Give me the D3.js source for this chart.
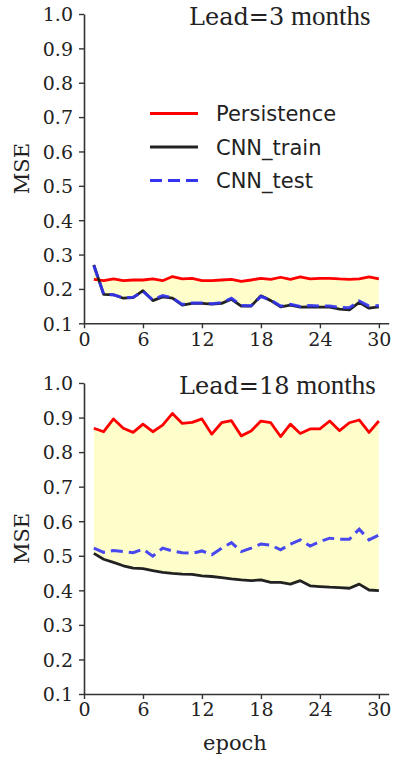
<!DOCTYPE html>
<html><head><meta charset="utf-8">
<script src="https://cdn.jsdelivr.net/npm/d3@7"></script>
<style>html,body{margin:0;padding:0;background:#fff;}svg{display:block;}</style>
</head><body>
<script>
const epochs = [1,2,3,4,5,6,7,8,9,10,11,12,13,14,15,16,17,18,19,20,21,22,23,24,25,26,27,28,29,30];
const xTicks = [0,6,12,18,24,30];
const yTicks = [0.1,0.2,0.3,0.4,0.5,0.6,0.7,0.8,0.9,1.0];
const seriesNames = ["Persistence","CNN_train","CNN_test"];
const panelTitles = [["Lead=3"," months"],["Lead=18"," months"]];

const persist3 = [0.228,0.224,0.229,0.224,0.226,0.226,0.229,0.224,0.236,0.229,0.231,0.224,0.224,0.226,0.228,0.222,0.226,0.231,0.228,0.234,0.228,0.235,0.229,0.231,0.231,0.229,0.228,0.229,0.235,0.229];
const train3 = [0.270,0.184,0.183,0.173,0.175,0.195,0.166,0.177,0.173,0.153,0.158,0.158,0.156,0.158,0.170,0.150,0.150,0.180,0.166,0.148,0.153,0.147,0.148,0.147,0.147,0.141,0.139,0.161,0.144,0.148];
const test3 = [0.268,0.185,0.183,0.174,0.176,0.193,0.168,0.181,0.174,0.155,0.159,0.159,0.157,0.160,0.173,0.152,0.151,0.178,0.168,0.150,0.155,0.149,0.152,0.150,0.150,0.146,0.145,0.165,0.150,0.152];

const persist18 = [0.869,0.859,0.896,0.869,0.857,0.881,0.859,0.878,0.912,0.883,0.886,0.896,0.852,0.885,0.891,0.847,0.861,0.890,0.885,0.845,0.881,0.854,0.867,0.867,0.890,0.862,0.885,0.893,0.857,0.890];
const train18 = [0.507,0.490,0.481,0.471,0.464,0.463,0.457,0.452,0.449,0.447,0.446,0.442,0.440,0.437,0.433,0.430,0.428,0.430,0.423,0.423,0.418,0.428,0.413,0.411,0.409,0.408,0.406,0.418,0.401,0.399];
const test18 = [0.522,0.510,0.515,0.512,0.509,0.519,0.499,0.522,0.514,0.509,0.507,0.514,0.503,0.522,0.538,0.512,0.522,0.534,0.531,0.517,0.534,0.546,0.528,0.541,0.551,0.548,0.548,0.577,0.546,0.560];

const W = 405, H = 763;
const svg = d3.select("body").append("svg").attr("width", W).attr("height", H);

const colors = {persist:"#ff0000", train:"#222222", test:"#3434f2", fill:"#fefecb", axis:"#333"};
const serif = "'DejaVu Serif', serif";
const x = d3.scaleLinear().domain([0,31]).range([84, 388.7]);

function panel(top, bottom, persist, train, test, title, titleX, showLegend, showXLabel){
  const y = d3.scaleLinear().domain([0.1,1.0]).range([bottom, top]);
  const g = svg.append("g");
  const rows = epochs.map((e,i)=>({e, p:persist[i], tr:train[i], te:test[i]}));
  g.append("path").datum(rows)
    .attr("fill", colors.fill)
    .attr("d", d3.area().x(d=>x(d.e)).y0(d=>y(d.tr)).y1(d=>y(d.p)));
  const line = key => d3.line().x(d=>x(d.e)).y(d=>y(d[key]));
  g.append("path").datum(rows).attr("fill","none").attr("stroke",colors.persist)
    .attr("stroke-width",2.8).attr("stroke-linejoin","round").attr("d", line("p"));
  g.append("path").datum(rows).attr("fill","none").attr("stroke",colors.train)
    .attr("stroke-width",2.8).attr("stroke-linejoin","round").attr("d", line("tr"));
  g.append("path").datum(rows).attr("fill","none").attr("stroke",colors.test)
    .attr("stroke-opacity",0.9).attr("stroke-width",3).attr("stroke-dasharray","12,6").attr("d", line("te"));

  const ya = g.append("g").attr("transform",`translate(${x(0)},0)`)
    .call(d3.axisLeft(y).tickValues(yTicks).tickFormat(d3.format(".1f")).tickSize(5).tickPadding(6).tickSizeOuter(0));
  const xa = g.append("g").attr("transform",`translate(0,${bottom})`)
    .call(d3.axisBottom(x).tickValues(xTicks).tickFormat(d3.format("d")).tickSize(5).tickPadding(4).tickSizeOuter(0));
  [ya, xa].forEach(a=>{
    a.select(".domain").attr("stroke",colors.axis).attr("stroke-width",1.6);
    a.selectAll(".tick line").attr("stroke",colors.axis).attr("stroke-width",1.4);
    a.selectAll(".tick text").attr("fill","#222").style("font-family",serif).style("font-size","19px");
  });
  ya.selectAll(".tick text").attr("dy","0.36em");

  g.append("text").attr("transform",`translate(29,${(top+bottom)/2}) rotate(-90)`)
    .attr("text-anchor","middle").style("font-family",serif).style("font-size","21px").attr("fill","#222").text("MSE");

  const t = g.append("text").attr("x",titleX).attr("y",top+11).attr("fill","#222");
  t.append("tspan").style("font-family",serif).style("font-size","24px").text(title[0]);
  t.append("tspan").style("font-family","'Liberation Serif', serif").style("font-size","27px").text(title[1]);

  if(showLegend){
    const items = [{n:seriesNames[0],c:colors.persist,d:null},{n:seriesNames[1],c:colors.train,d:null},{n:seriesNames[2],c:colors.test,d:"12,6"}];
    const ly = [113.5, 147, 180.5];
    items.forEach((it,i)=>{
      g.append("line").attr("x1",150).attr("x2",198).attr("y1",ly[i]).attr("y2",ly[i])
        .attr("stroke",it.c).attr("stroke-width",2.8).attr("stroke-dasharray",it.d);
      g.append("text").attr("x",216).attr("y",ly[i]).attr("dy","0.36em")
        .style("font-family","'DejaVu Sans', sans-serif").style("font-size","21px").attr("fill","#222").text(it.n);
    });
  }
  if(showXLabel){
    g.append("text").attr("x",235).attr("y",bottom+56).attr("text-anchor","middle")
      .style("font-family",serif).style("font-size","21px").attr("fill","#222").text("epoch");
  }
}

panel(14, 323.3, persist3, train3, test3, panelTitles[0], 189, true, false);
panel(383, 694, persist18, train18, test18, panelTitles[1], 179, false, true);
</script>
</body></html>
